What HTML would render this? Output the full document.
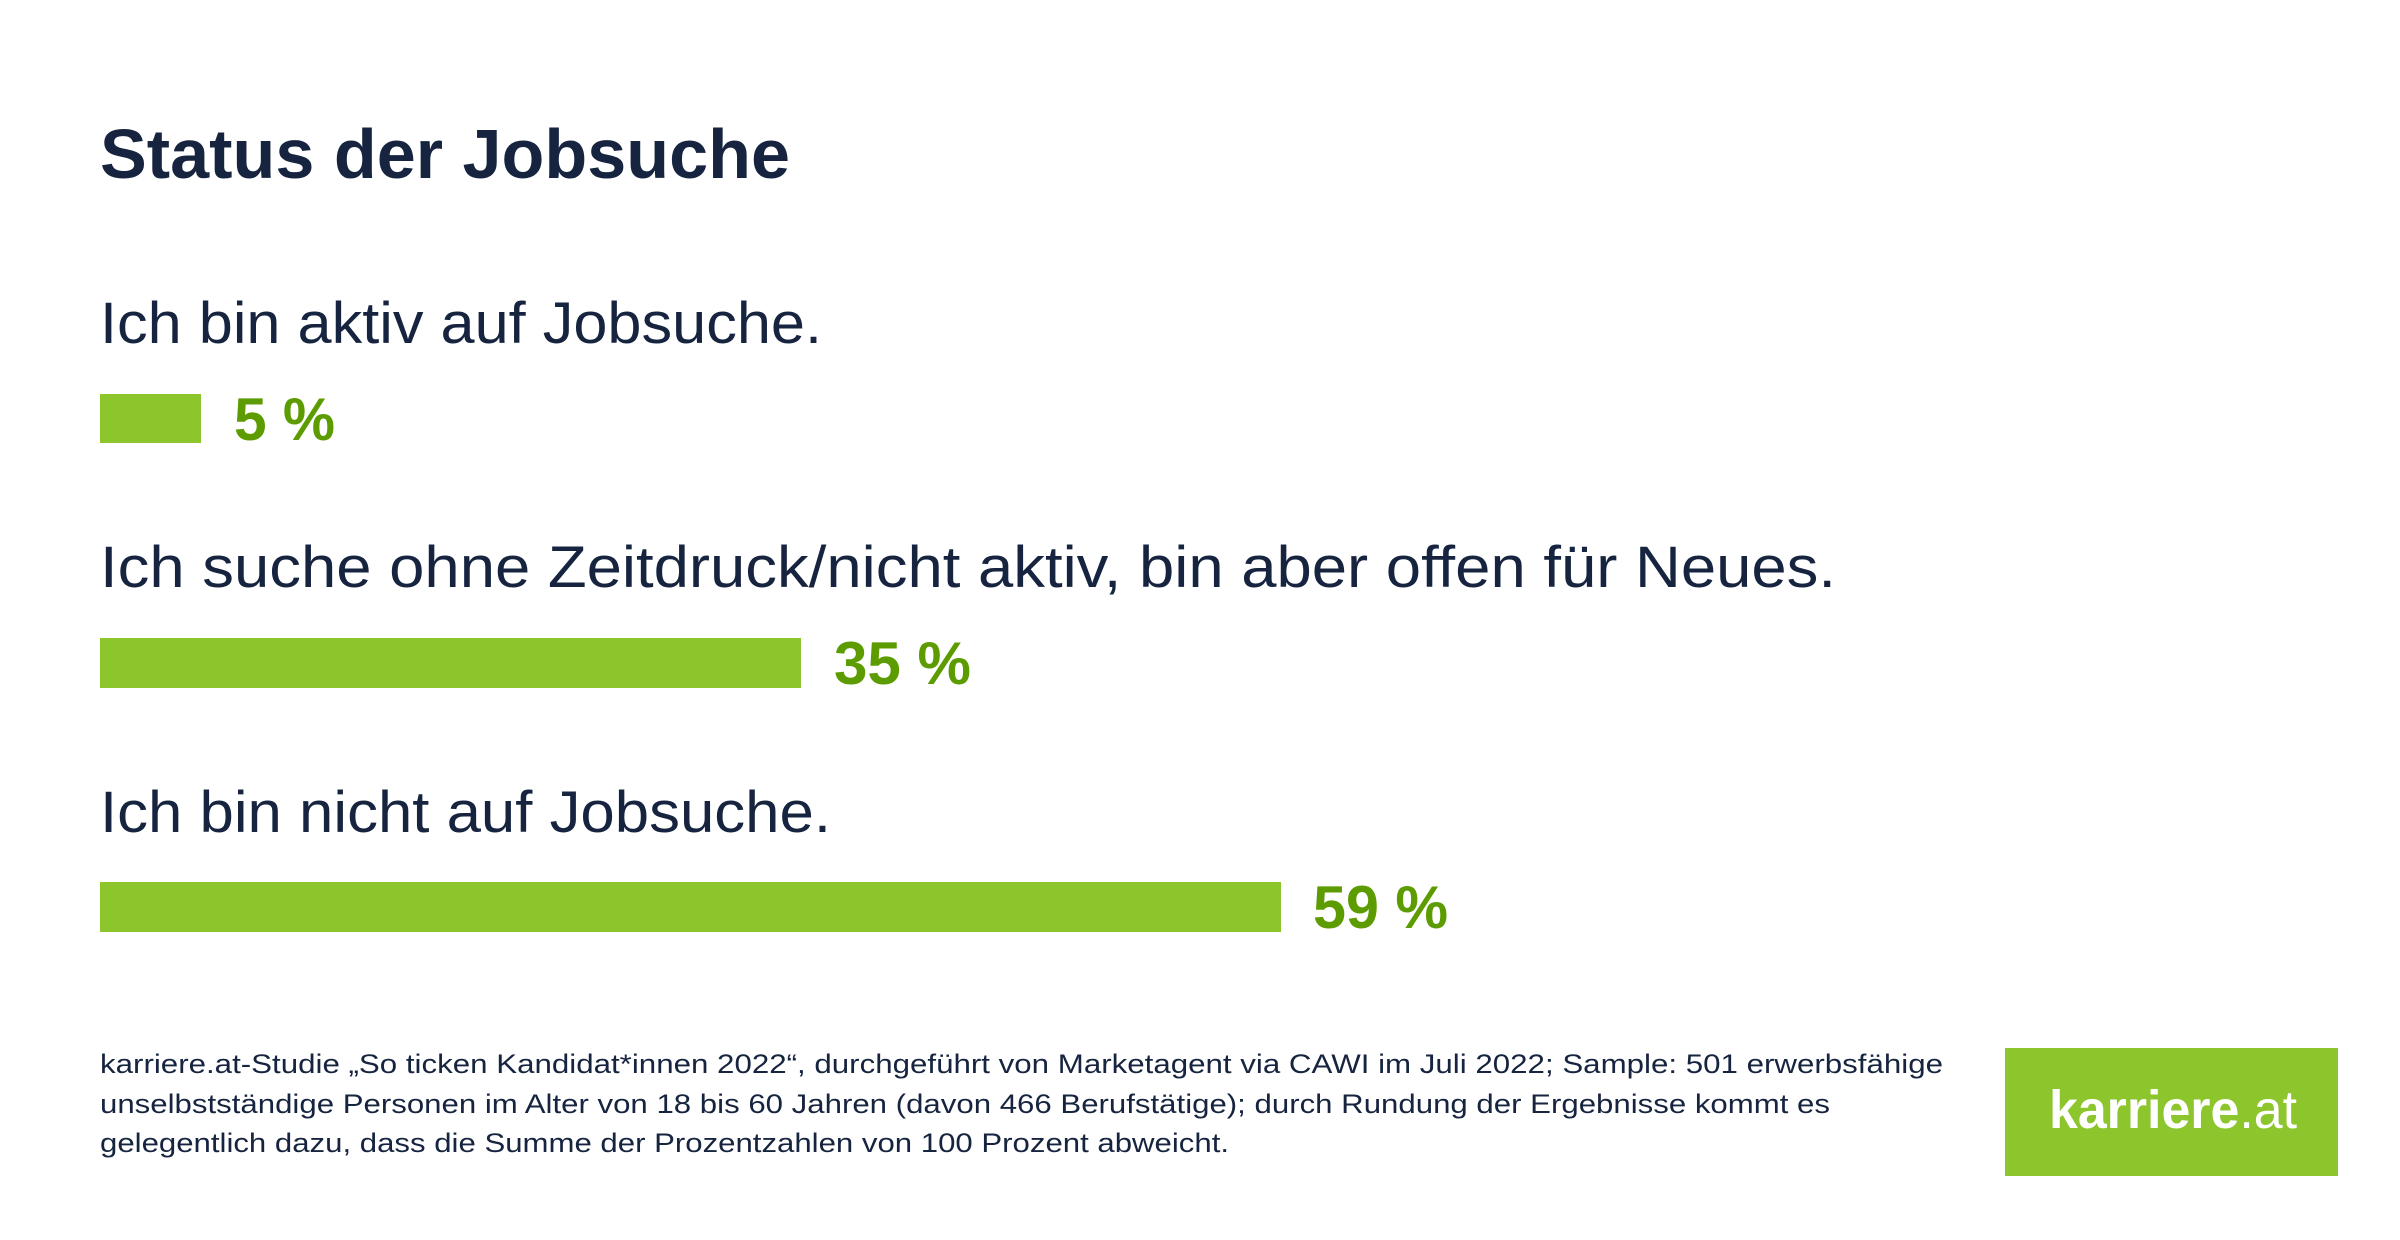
<!DOCTYPE html>
<html><head><meta charset="utf-8"><style>
html,body{margin:0;padding:0;background:#fff;}
svg{display:block;}
text{font-family:"Liberation Sans",sans-serif;}
</style></head><body>
<svg width="2400" height="1240" viewBox="0 0 2400 1240" xmlns="http://www.w3.org/2000/svg">
<rect width="2400" height="1240" fill="#fff"/>
<text x="100" y="178" font-size="70" font-weight="bold" fill="#16243f" textLength="690" lengthAdjust="spacingAndGlyphs">Status der Jobsuche</text>

<text x="100" y="343" font-size="58" fill="#16243f" textLength="722" lengthAdjust="spacingAndGlyphs">Ich bin aktiv auf Jobsuche.</text>
<rect x="100" y="394" width="101" height="49" fill="#8cc52c"/>
<text x="234" y="440" font-size="60" font-weight="bold" fill="#5c9c00" textLength="101" lengthAdjust="spacingAndGlyphs">5 %</text>

<text x="100" y="587" font-size="58" fill="#16243f" textLength="1736" lengthAdjust="spacingAndGlyphs">Ich suche ohne Zeitdruck/nicht aktiv, bin aber offen für Neues.</text>
<rect x="100" y="638" width="701" height="50" fill="#8cc52c"/>
<text x="834" y="684" font-size="60" font-weight="bold" fill="#5c9c00" textLength="137" lengthAdjust="spacingAndGlyphs">35 %</text>

<text x="100" y="832" font-size="58" fill="#16243f" textLength="731" lengthAdjust="spacingAndGlyphs">Ich bin nicht auf Jobsuche.</text>
<rect x="100" y="882" width="1181" height="50" fill="#8cc52c"/>
<text x="1313" y="928" font-size="60" font-weight="bold" fill="#5c9c00" textLength="135" lengthAdjust="spacingAndGlyphs">59 %</text>

<text x="100" y="1073" font-size="27" fill="#16243f" textLength="1843" lengthAdjust="spacingAndGlyphs">karriere.at-Studie „So ticken Kandidat*innen 2022“, durchgeführt von Marketagent via CAWI im Juli 2022; Sample: 501 erwerbsfähige</text>
<text x="100" y="1113" font-size="27" fill="#16243f" textLength="1730" lengthAdjust="spacingAndGlyphs">unselbstständige Personen im Alter von 18 bis 60 Jahren (davon 466 Berufstätige); durch Rundung der Ergebnisse kommt es</text>
<text x="100" y="1152" font-size="27" fill="#16243f" textLength="1129" lengthAdjust="spacingAndGlyphs">gelegentlich dazu, dass die Summe der Prozentzahlen von 100 Prozent abweicht.</text>

<rect x="2005" y="1048" width="333" height="128" fill="#8cc52c"/>
<text x="2049" y="1128" font-size="54" fill="#fff" textLength="248" lengthAdjust="spacingAndGlyphs"><tspan font-weight="bold">karriere</tspan>.at</text>
</svg>
</body></html>
